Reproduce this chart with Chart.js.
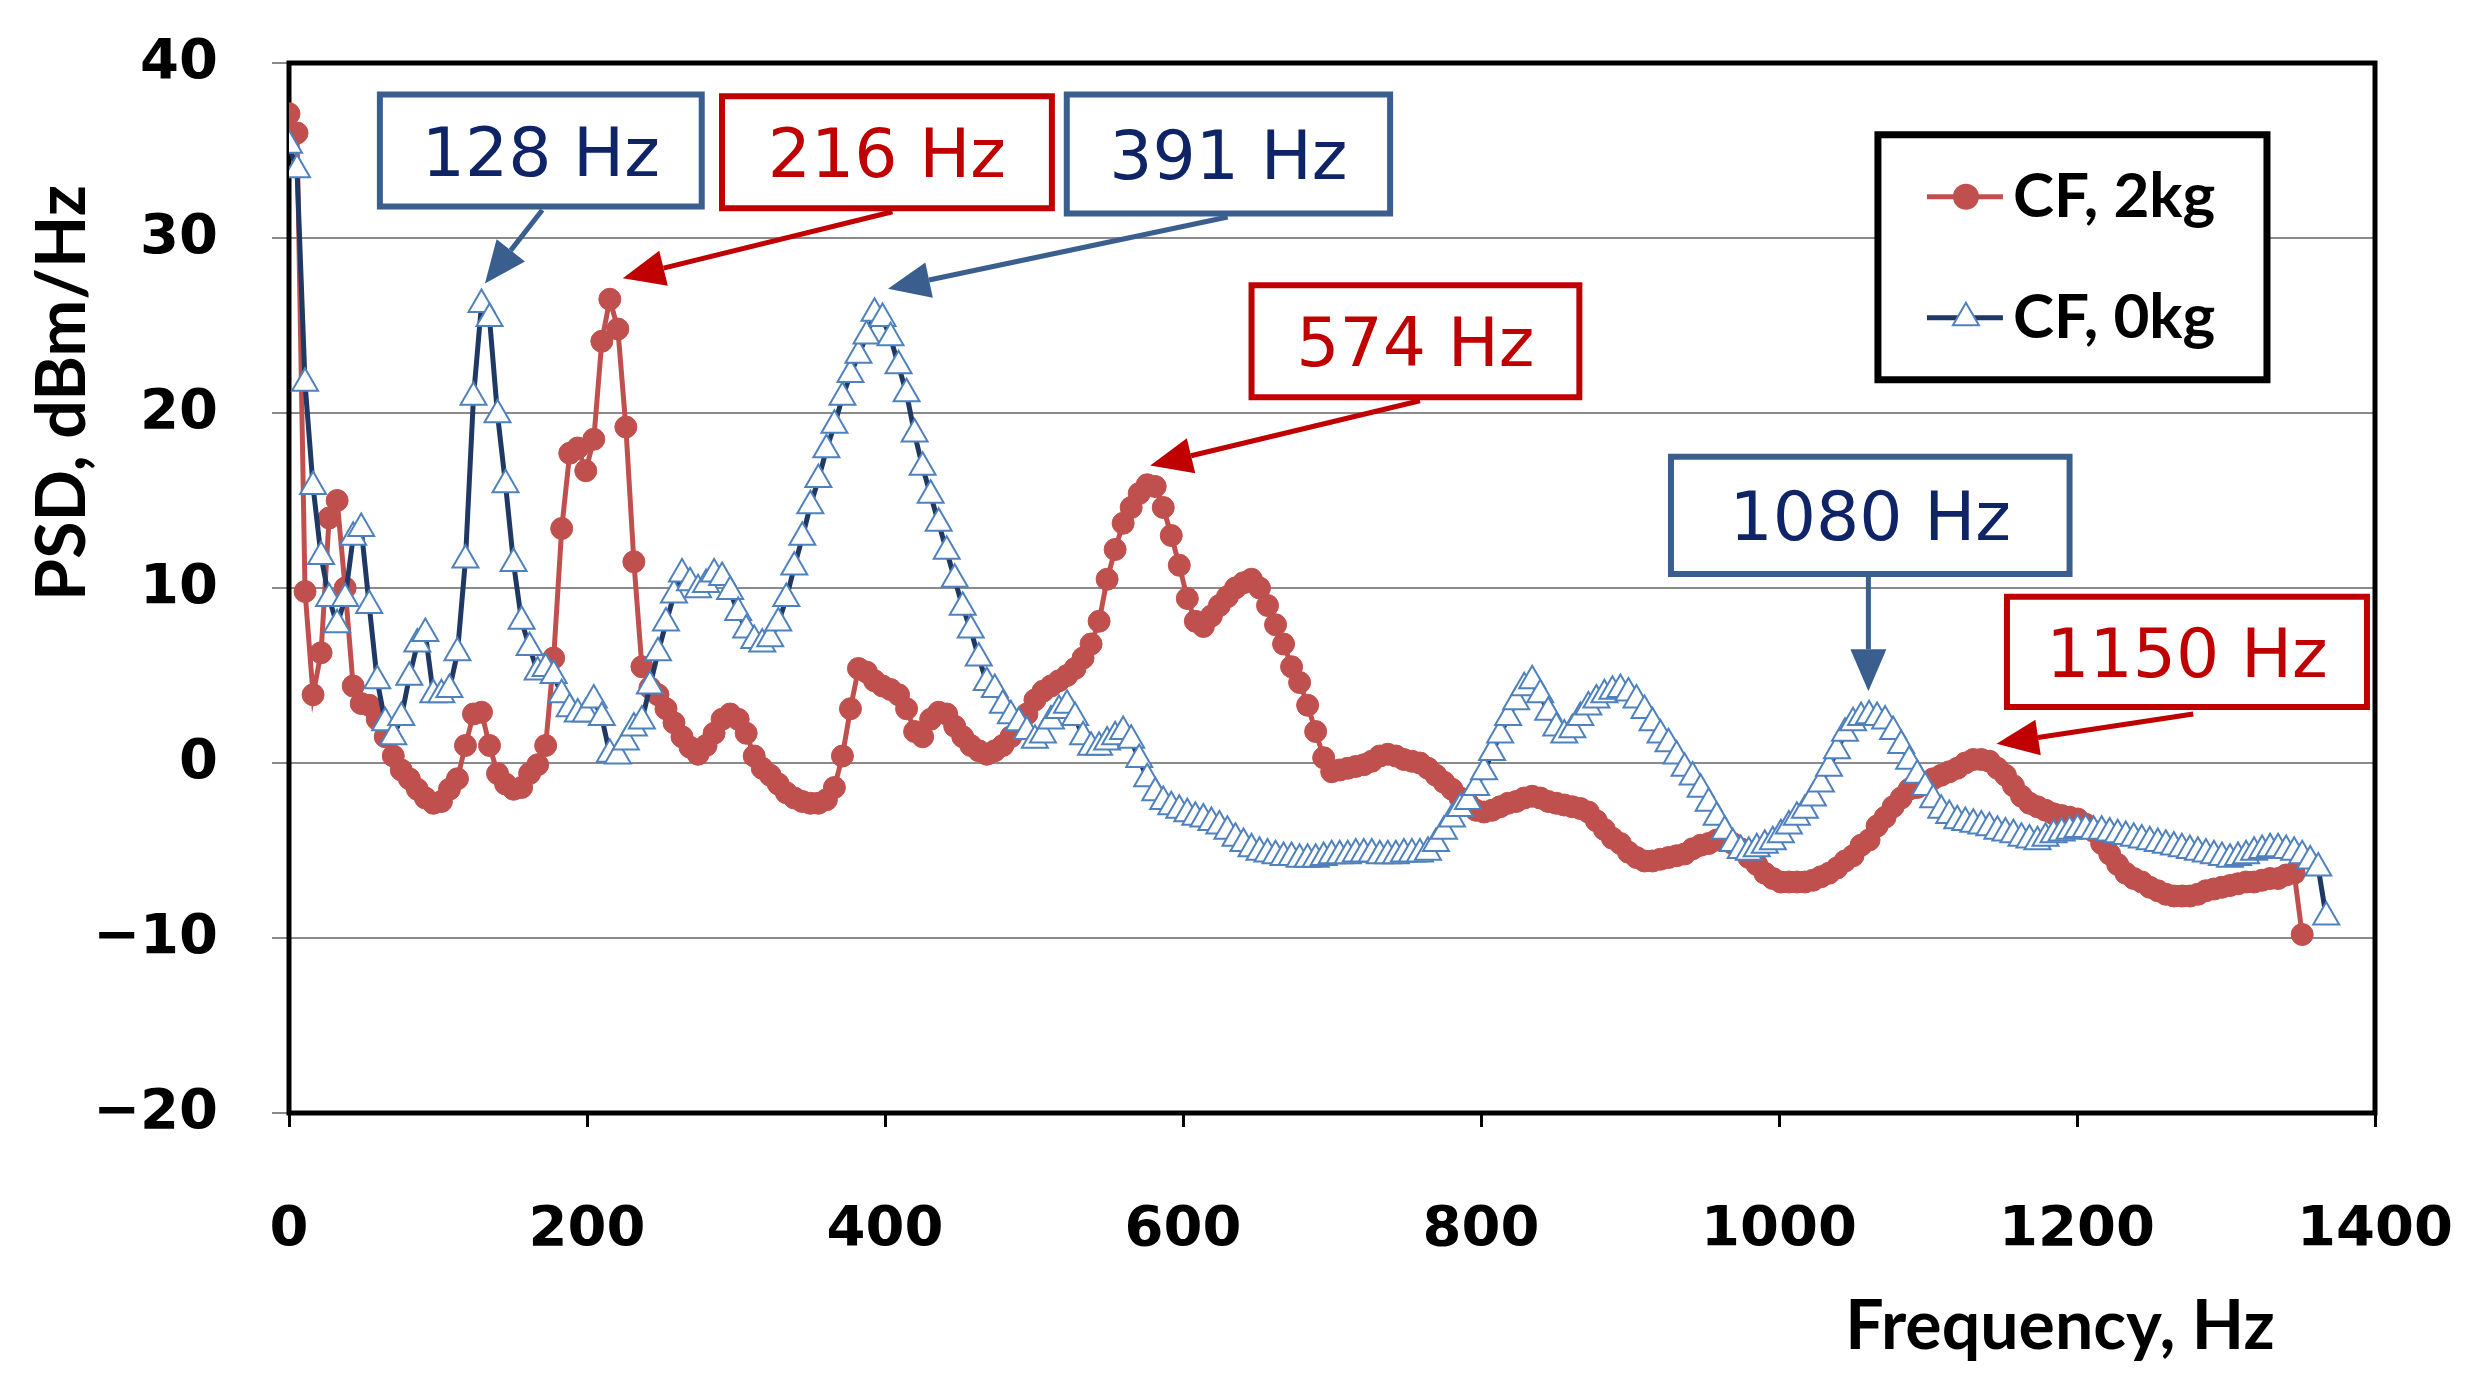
<!DOCTYPE html>
<html lang="en">
<head>
<meta charset="UTF-8">
<title>PSD - CF 2kg vs CF 0kg</title>
<script src="https://cdn.jsdelivr.net/npm/chart.js"></script>
<style>
  html, body { margin: 0; padding: 0; background: #fff; overflow: hidden; }
  #wrap { width: 2474px; height: 1388px; }
</style>
</head>
<body>
<div id="wrap"><canvas id="psdChart" width="2474" height="1388"></canvas></div>
<script>
// FFT bin spacing (Hz) - every value below is one bin
const binHz = 5.383;

// CF, 2kg (dBm/Hz)
const psd2kg = [
  37.1, 36.0, 9.8, 3.9, 6.3, 14.0, 15.0, 10.0, 4.4, 3.4,
  3.3, 2.5, 1.5, 0.4, -0.4, -0.9, -1.5, -2.0, -2.3, -2.2,
  -1.5, -0.9, 1.0, 2.8, 2.9, 1.0, -0.6, -1.2, -1.5, -1.4,
  -0.6, -0.1, 1.0, 6.0, 13.4, 17.7, 18.0, 16.7, 18.5, 24.1,
  26.5, 24.8, 19.2, 11.5, 5.5, 4.3, 3.9, 3.1, 2.3, 1.5,
  0.9, 0.5, 1.0, 1.7, 2.5, 2.8, 2.5, 1.7, 0.4, -0.3,
  -0.7, -1.2, -1.7, -2.0, -2.2, -2.3, -2.3, -2.1, -1.4, 0.4,
  3.1, 5.4, 5.2, 4.7, 4.4, 4.2, 3.9, 3.1, 1.8, 1.5,
  2.5, 2.9, 2.8, 2.1, 1.5, 1.0, 0.7, 0.5, 0.7, 1.0,
  1.5, 2.0, 2.8, 3.6, 4.1, 4.4, 4.7, 5.0, 5.4, 6.0,
  6.8, 8.1, 10.5, 12.2, 13.7, 14.6, 15.4, 15.9, 15.8, 14.6,
  13.0, 11.3, 9.4, 8.1, 7.8, 8.4, 9.0, 9.5, 10.0, 10.3,
  10.5, 10.0, 9.0, 7.9, 6.8, 5.5, 4.6, 3.3, 1.8, 0.3,
  -0.5, -0.4, -0.3, -0.2, -0.1, 0.1, 0.4, 0.5, 0.4, 0.2,
  0.1, 0.0, -0.3, -0.7, -1.1, -1.5, -2.0, -2.3, -2.7, -2.8,
  -2.7, -2.5, -2.3, -2.2, -2.0, -1.9, -2.0, -2.2, -2.3, -2.4,
  -2.5, -2.6, -2.8, -3.3, -3.8, -4.3, -4.6, -5.1, -5.4, -5.6,
  -5.6, -5.5, -5.4, -5.3, -5.2, -4.9, -4.7, -4.6, -4.4, -4.4,
  -4.6, -4.9, -5.4, -5.8, -6.3, -6.6, -6.8, -6.8, -6.8, -6.8,
  -6.7, -6.5, -6.3, -6.0, -5.6, -5.3, -4.7, -4.4, -3.6, -3.1,
  -2.5, -2.0, -1.5, -1.4, -1.1, -0.9, -0.7, -0.5, -0.3, 0.0,
  0.2, 0.2, 0.1, -0.3, -0.7, -1.3, -1.9, -2.3, -2.5, -2.7,
  -2.9, -3.0, -3.1, -3.2, -3.5, -3.9, -4.6, -5.2, -5.8, -6.3,
  -6.6, -6.8, -7.1, -7.3, -7.5, -7.6, -7.6, -7.6, -7.5, -7.3,
  -7.2, -7.1, -7.0, -6.9, -6.8, -6.8, -6.7, -6.6, -6.6, -6.4,
  -6.3, -9.8
];

// CF, 0kg (dBm/Hz)
const psd0kg = [
  35.3, 33.9, 21.7, 15.8, 11.8, 9.4, 7.9, 9.4, 12.9, 13.4,
  9.0, 4.7, 2.3, 1.5, 2.6, 4.9, 6.8, 7.4, 3.9, 3.9,
  4.2, 6.3, 11.6, 20.9, 26.2, 25.4, 19.9, 15.9, 11.4, 8.1,
  6.6, 5.2, 5.4, 5.0, 3.9, 3.1, 2.8, 2.8, 3.6, 2.6,
  0.5, 0.4, 1.2, 2.0, 2.4, 4.4, 6.3, 8.0, 9.6, 10.8,
  10.3, 9.9, 10.2, 10.8, 10.6, 9.8, 8.6, 7.6, 7.0, 6.8,
  7.1, 8.0, 9.4, 11.2, 12.9, 14.7, 16.2, 17.9, 19.3, 20.9,
  22.2, 23.3, 24.4, 25.7, 25.4, 24.3, 22.7, 21.1, 18.8, 16.9,
  15.3, 13.7, 12.1, 10.5, 8.9, 7.6, 6.0, 4.6, 4.2, 3.3,
  2.7, 2.3, 1.8, 1.3, 1.6, 2.4, 3.0, 3.3, 2.6, 1.5,
  0.9, 0.9, 1.2, 1.5, 1.8, 1.3, 0.2, -0.9, -1.7, -2.2,
  -2.5, -2.7, -2.9, -3.1, -3.2, -3.4, -3.6, -3.9, -4.3, -4.6,
  -4.9, -5.1, -5.2, -5.3, -5.4, -5.4, -5.5, -5.5, -5.5, -5.4,
  -5.3, -5.3, -5.3, -5.2, -5.2, -5.2, -5.3, -5.3, -5.3, -5.2,
  -5.2, -5.2, -5.1, -4.6, -3.9, -3.2, -2.6, -2.2, -1.4, -0.5,
  0.6, 1.6, 2.6, 3.5, 4.3, 4.7, 3.9, 2.9, 2.0, 1.6,
  1.9, 2.6, 3.2, 3.6, 3.9, 4.1, 4.2, 4.0, 3.6, 3.0,
  2.3, 1.6, 1.1, 0.4, -0.3, -0.8, -1.5, -2.3, -3.1, -3.9,
  -4.6, -5.0, -5.1, -4.9, -4.7, -4.5, -4.1, -3.6, -3.1, -2.7,
  -2.0, -1.2, -0.3, 0.7, 1.7, 2.3, 2.6, 2.7, 2.6, 2.4,
  1.8, 1.0, 0.1, -0.7, -1.4, -2.1, -2.7, -3.0, -3.3, -3.4,
  -3.5, -3.6, -3.7, -3.9, -4.0, -4.1, -4.3, -4.4, -4.5, -4.3,
  -4.1, -4.0, -3.9, -3.8, -3.8, -3.9, -3.9, -4.0, -4.1, -4.2,
  -4.3, -4.4, -4.5, -4.6, -4.7, -4.8, -4.9, -5.0, -5.1, -5.2,
  -5.3, -5.4, -5.5, -5.4, -5.3, -5.1, -5.0, -4.9, -4.9, -5.0,
  -5.1, -5.3, -5.6, -6.0, -8.8
];

const seriesNames = ['CF, 2kg', 'CF, 0kg'];

// peak labels: box [f1, f2, dB top, dB bottom], arrow from -> to (Hz, dB)
const callouts = [
  { text: '128 Hz',  kind: 'blue', box: [61, 277, 38.2, 31.8],     from: [170, 31.6],   to: [131.5, 27.4] },
  { text: '216 Hz',  kind: 'red',  box: [290.6, 512, 38.1, 31.7],  from: [405, 31.5],   to: [224, 27.7] },
  { text: '391 Hz',  kind: 'blue', box: [522, 739, 38.2, 31.4],    from: [630, 31.2],   to: [402, 27.1] },
  { text: '574 Hz',  kind: 'red',  box: [646, 866, 27.3, 20.9],    from: [759, 20.7],   to: [578, 17.0] },
  { text: '1080 Hz', kind: 'blue', box: [927.5, 1195, 17.5, 10.8], from: [1060, 10.8],  to: [1060, 4.1] },
  { text: '1150 Hz', kind: 'red',  box: [1153, 1394.6, 9.5, 3.2],  from: [1278, 2.8],   to: [1146, 1.1] }
];

const style = {
  red:  { border: '#C00000', text: '#C00000' },
  blue: { border: '#3A5F8E', text: '#0F2466' }
};

function drawArrow(ctx, x1, y1, x2, y2, color) {
  const ang = Math.atan2(y2 - y1, x2 - x1);
  const headLen = 42, headW = 18;
  const bx = x2 - Math.cos(ang) * headLen, by = y2 - Math.sin(ang) * headLen;
  ctx.strokeStyle = color;
  ctx.lineWidth = 5;
  ctx.beginPath();
  ctx.moveTo(x1, y1);
  ctx.lineTo(bx, by);
  ctx.stroke();
  ctx.fillStyle = color;
  ctx.beginPath();
  ctx.moveTo(x2, y2);
  ctx.lineTo(bx + Math.sin(ang) * headW, by - Math.cos(ang) * headW);
  ctx.lineTo(bx - Math.sin(ang) * headW, by + Math.cos(ang) * headW);
  ctx.closePath();
  ctx.fill();
}

const frame = {
  id: 'frame',
  beforeDatasetsDraw(chart) {
    const { ctx, chartArea: a } = chart;
    ctx.save();
    ctx.strokeStyle = '#000';
    ctx.lineWidth = 5;
    ctx.strokeRect(a.left, a.top, a.right - a.left, a.bottom - a.top);
    ctx.restore();
  }
};

const overlay = {
  id: 'overlay',
  afterDraw(chart) {
    const { ctx, chartArea: a, scales: { x, y } } = chart;
    ctx.save();

    // callouts
    callouts.forEach(c => {
      const s = style[c.kind];
      const x1 = x.getPixelForValue(c.box[0]), x2 = x.getPixelForValue(c.box[1]);
      const y1 = y.getPixelForValue(c.box[2]), y2 = y.getPixelForValue(c.box[3]);
      drawArrow(ctx, x.getPixelForValue(c.from[0]), y.getPixelForValue(c.from[1]),
                x.getPixelForValue(c.to[0]), y.getPixelForValue(c.to[1]), s.border);
      ctx.fillStyle = '#fff';
      ctx.fillRect(x1, y1, x2 - x1, y2 - y1);
      ctx.strokeStyle = s.border;
      ctx.lineWidth = 6;
      ctx.strokeRect(x1, y1, x2 - x1, y2 - y1);
      ctx.fillStyle = s.text;
      ctx.font = '68px "DejaVu Sans"';
      ctx.textAlign = 'center';
      ctx.textBaseline = 'alphabetic';
      ctx.fillText(c.text, (x1 + x2) / 2, (y1 + y2) / 2 + 25);
    });

    // legend box
    const lx = x.getPixelForValue(1066.4), rx = x.getPixelForValue(1327.5);
    const ty = y.getPixelForValue(35.9), by = y.getPixelForValue(21.9);
    ctx.fillStyle = '#fff';
    ctx.fillRect(lx, ty, rx - lx, by - ty);
    ctx.strokeStyle = '#000';
    ctx.lineWidth = 7;
    ctx.strokeRect(lx, ty, rx - lx, by - ty);

    const rows = [ty + 62, ty + 183];
    // red entry
    ctx.strokeStyle = '#C0504D';
    ctx.lineWidth = 5;
    ctx.beginPath(); ctx.moveTo(lx + 49, rows[0]); ctx.lineTo(lx + 125, rows[0]); ctx.stroke();
    ctx.fillStyle = '#C0504D';
    ctx.beginPath(); ctx.arc(lx + 88, rows[0], 13, 0, Math.PI * 2); ctx.fill();
    // blue entry
    ctx.strokeStyle = '#1F3864';
    ctx.beginPath(); ctx.moveTo(lx + 49, rows[1]); ctx.lineTo(lx + 125, rows[1]); ctx.stroke();
    const r = 15, cx = lx + 88, cy = rows[1];
    ctx.fillStyle = '#fff';
    ctx.strokeStyle = '#4F81BD';
    ctx.lineWidth = 2;
    ctx.beginPath();
    ctx.moveTo(cx, cy - r);
    ctx.lineTo(cx + r * 0.866, cy + r / 2);
    ctx.lineTo(cx - r * 0.866, cy + r / 2);
    ctx.closePath();
    ctx.fill(); ctx.stroke();

    ctx.fillStyle = '#000';
    ctx.font = 'bold 62px Lato';
    ctx.textAlign = 'left';
    ctx.textBaseline = 'alphabetic';
    ctx.fillText(seriesNames[0], lx + 135, rows[0] + 20);
    ctx.fillText(seriesNames[1], lx + 135, rows[1] + 20);

    // axis titles
    ctx.font = 'bold 68px Lato';
    ctx.textAlign = 'center';
    ctx.fillText('Frequency, Hz', a.right - 315, 1349);
    ctx.translate(85, 393);
    ctx.rotate(-Math.PI / 2);
    ctx.fillText('PSD, dBm/Hz', 0, 0);
    ctx.restore();
  }
};

new Chart(document.getElementById('psdChart'), {
  type: 'line',
  data: {
    datasets: [
      {
        label: seriesNames[1],
        data: psd0kg.map((v, i) => ({ x: i * binHz, y: v })),
        borderColor: '#1F3864',
        borderWidth: 5,
        pointStyle: 'triangle',
        pointRadius: 15,
        pointBackgroundColor: '#fff',
        pointBorderColor: '#4F81BD',
        pointBorderWidth: 2,
        tension: 0
      },
      {
        label: seriesNames[0],
        data: psd2kg.map((v, i) => ({ x: i * binHz, y: v })),
        borderColor: '#C0504D',
        borderWidth: 5,
        pointStyle: 'circle',
        pointRadius: 11,
        pointBackgroundColor: '#C0504D',
        pointBorderColor: '#C0504D',
        pointBorderWidth: 1,
        tension: 0
      }
    ]
  },
  options: {
    responsive: false,
    animation: false,
    devicePixelRatio: 1,
    layout: { padding: { top: 63, right: 99, left: 0, bottom: 0 }, autoPadding: false },
    plugins: { legend: { display: false }, tooltip: { enabled: false } },
    scales: {
      x: {
        type: 'linear',
        min: 0,
        max: 1400,
        // fixed band height, and no extra room claimed for the end labels
        afterFit: s => { s.height = 275; s.paddingLeft = 0; s.paddingRight = 0; },
        ticks: {
          stepSize: 200,
          padding: 70,
          color: '#000',
          font: { family: 'DejaVu Sans', weight: 'bold', size: 56 },
          callback: v => String(v)
        },
        grid: { drawOnChartArea: false, drawTicks: true, tickLength: 14, color: '#000', lineWidth: 3 },
        border: { display: true, color: '#000', width: 4 }
      },
      y: {
        min: -20,
        max: 40,
        afterFit: s => { s.width = 289; s.paddingTop = 0; s.paddingBottom = 0; },
        ticks: {
          stepSize: 10,
          padding: 54,
          color: '#000',
          font: { family: 'DejaVu Sans', weight: 'bold', size: 56 },
          callback: v => (v < 0 ? '\u2212' + Math.abs(v) : String(v))
        },
        grid: { color: '#8A8A8A', lineWidth: 2, tickLength: 17 },
        border: { display: true, color: '#000', width: 4 }
      }
    }
  },
  plugins: [frame, overlay]
});
</script>
</body>
</html>
